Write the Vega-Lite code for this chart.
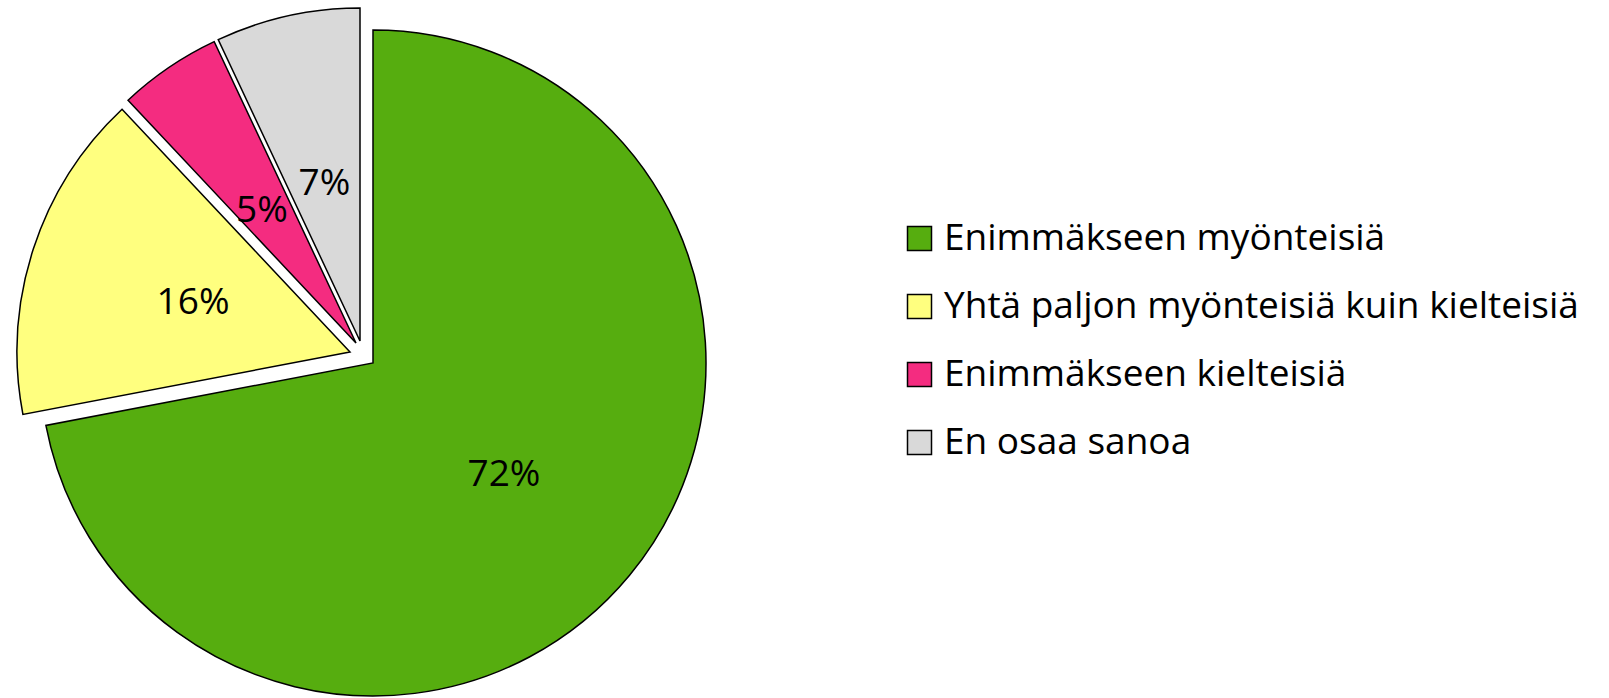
{
  "$schema": "https://vega.github.io/schema/vega-lite/v6.json",
  "width": 1609,
  "height": 698,
  "padding": 0,
  "autosize": "none",
  "background": "white",
  "config": {"view": {"stroke": null}},
  "data": {
    "values": [
      {"cat": "Enimmäkseen myönteisiä", "value": 72, "label": "72%", "order": 1},
      {"cat": "Yhtä paljon myönteisiä kuin kielteisiä", "value": 16, "label": "16%", "order": 2},
      {"cat": "Enimmäkseen kielteisiä", "value": 5, "label": "5%", "order": 3},
      {"cat": "En osaa sanoa", "value": 7, "label": "7%", "order": 4}
    ]
  },
  "encoding": {
    "theta": {"field": "value", "type": "quantitative", "stack": true},
    "order": {"field": "order", "type": "quantitative"},
    "color": {
      "field": "cat",
      "type": "nominal",
      "scale": {
        "domain": ["Enimmäkseen myönteisiä", "Yhtä paljon myönteisiä kuin kielteisiä", "Enimmäkseen kielteisiä", "En osaa sanoa"],
        "range": ["#56ad0f", "#ffff7f", "#f42c80", "#d9d9d9"]
      },
      "legend": {
        "orient": "none",
        "legendX": 901,
        "legendY": 220,
        "title": null,
        "padding": 0,
        "symbolType": "square",
        "symbolSize": 576,
        "symbolStrokeColor": "black",
        "symbolStrokeWidth": 1.5,
        "symbolOpacity": 1,
        "labelFont": "Open Sans",
        "labelFontSize": 37,
        "labelColor": "black",
        "labelLimit": 1000,
        "labelOffset": 6,
        "rowPadding": 30
      }
    }
  },
  "layer": [
    {
      "mark": {"type": "arc", "outerRadius": 333, "stroke": "black", "strokeWidth": 1.5, "xOffset": -431.5, "yOffset": 14},
      "encoding": {"opacity": {"condition": {"test": "datum.order === 1", "value": 1}, "value": 0}}
    },
    {
      "mark": {"type": "arc", "outerRadius": 333, "stroke": "black", "strokeWidth": 1.5, "xOffset": -454.5, "yOffset": 3},
      "encoding": {"opacity": {"condition": {"test": "datum.order === 2", "value": 1}, "value": 0}}
    },
    {
      "mark": {"type": "arc", "outerRadius": 333, "stroke": "black", "strokeWidth": 1.5, "xOffset": -448.5, "yOffset": -6},
      "encoding": {"opacity": {"condition": {"test": "datum.order === 3", "value": 1}, "value": 0}}
    },
    {
      "mark": {"type": "arc", "outerRadius": 333, "stroke": "black", "strokeWidth": 1.5, "xOffset": -444.5, "yOffset": -8},
      "encoding": {"opacity": {"condition": {"test": "datum.order === 4", "value": 1}, "value": 0}}
    },
    {
      "mark": {"type": "text", "radius": 170, "font": "Open Sans", "fontSize": 37, "baseline": "middle", "align": "center", "dy": 4, "xOffset": -431.5, "yOffset": 14},
      "encoding": {"text": {"field": "label"}, "color": {"value": "black"}, "detail": {"field": "cat"}, "opacity": {"condition": {"test": "datum.order === 1", "value": 1}, "value": 0}}
    },
    {
      "mark": {"type": "text", "radius": 165, "font": "Open Sans", "fontSize": 37, "baseline": "middle", "align": "center", "dy": 2, "xOffset": -454.5, "yOffset": 3},
      "encoding": {"text": {"field": "label"}, "color": {"value": "black"}, "detail": {"field": "cat"}, "opacity": {"condition": {"test": "datum.order === 2", "value": 1}, "value": 0}}
    },
    {
      "mark": {"type": "text", "radius": 162, "font": "Open Sans", "fontSize": 37, "baseline": "middle", "align": "center", "dy": 2, "xOffset": -451.5, "yOffset": -6},
      "encoding": {"text": {"field": "label"}, "color": {"value": "black"}, "detail": {"field": "cat"}, "opacity": {"condition": {"test": "datum.order === 3", "value": 1}, "value": 0}}
    },
    {
      "mark": {"type": "text", "radius": 163, "font": "Open Sans", "fontSize": 37, "baseline": "middle", "align": "center", "dy": 2, "xOffset": -444.5, "yOffset": -8},
      "encoding": {"text": {"field": "label"}, "color": {"value": "black"}, "detail": {"field": "cat"}, "opacity": {"condition": {"test": "datum.order === 4", "value": 1}, "value": 0}}
    }
  ]
}
